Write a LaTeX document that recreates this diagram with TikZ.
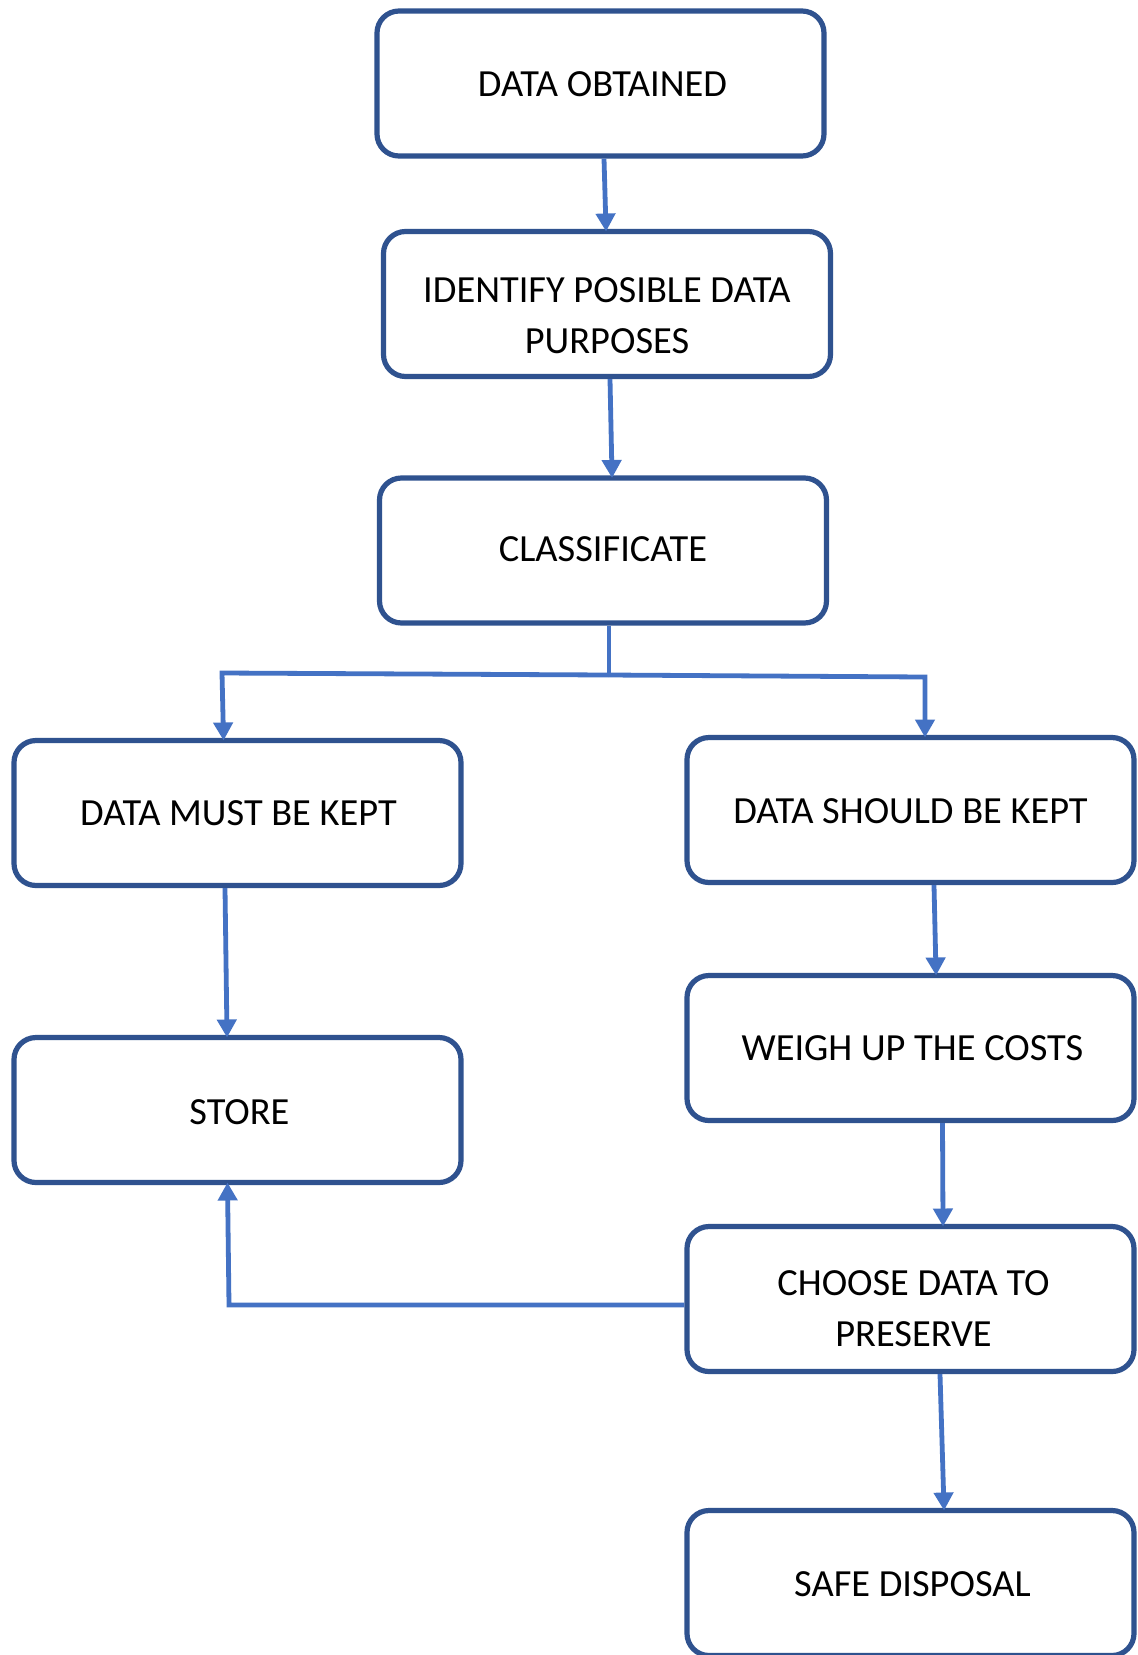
\documentclass[tikz,border=0pt]{standalone}
\usepackage{fontspec}
\setmainfont{Carlito}
\usetikzlibrary{arrows.meta,calc}
\definecolor{boxline}{HTML}{2F528F}
\definecolor{flowline}{HTML}{4472C4}
\begin{document}
\begin{tikzpicture}[x=0.5pt,y=-0.5pt,
  stage/.style={draw=boxline, line width=2.6pt, rounded corners=11pt,
    minimum width=223.5pt, minimum height=72.5pt, inner sep=0pt, fill=white},
  caption/.style={font=\fontsize{19.2}{25.5}\selectfont, align=center, inner sep=0pt},
  link/.style={draw=flowline, line width=2.4pt, line join=miter},
  flow/.style={link, shorten >=-1.3pt, -{Triangle[width=9.5pt,length=9pt]}}]

% page area
\fill[white] (0,0) rectangle (1137,1655);
\useasboundingbox (0,0) rectangle (1137,1655);

% process boxes
\node[stage] (obt)     at (600.5,83.5) {};
\node[stage] (ident)   at (607,304)    {};
\node[stage] (classif) at (603,550.5)  {};
\node[stage] (must)    at (237.5,813)  {};
\node[stage] (should)  at (910.5,810)  {};
\node[stage] (weigh)   at (910.5,1048) {};
\node[stage] (store)   at (237.5,1110) {};
\node[stage] (choose)  at (910.5,1299) {};
\node[stage] (safe)    at (910.5,1583) {};

% box captions
\node[caption] (obt-t)     at ($(obt.center)+(2,1)$)     {DATA OBTAINED};
\node[caption] (ident-t)   at ($(ident.center)+(0,12)$)  {IDENTIFY POSIBLE DATA\\PURPOSES};
\node[caption] (classif-t) at ($(classif.center)+(0,-1)$) {CLASSIFICATE};
\node[caption] (must-t)    at ($(must.center)+(1,0)$)    {DATA MUST BE KEPT};
\node[caption] (should-t)  at ($(should.center)+(0,1)$)  {DATA SHOULD BE KEPT};
\node[caption] (weigh-t)   at ($(weigh.center)+(2,0)$)   {WEIGH UP THE COSTS};
\node[caption] (store-t)   at ($(store.center)+(2,2)$)   {STORE};
\node[caption] (choose-t)  at ($(choose.center)+(3,10)$) {CHOOSE DATA TO\\PRESERVE};
\node[caption] (safe-t)    at ($(safe.center)+(2,1)$)    {SAFE DISPOSAL};

% main chain
\draw[flow] ($(obt.south)+(3.5,0)$)   -- ($(ident.north)+(-1,0)$);
\draw[flow] ($(ident.south)+(3,0)$)   -- ($(classif.north)+(9,0)$);

% split after classification
\coordinate (split)   at (609,675);
\coordinate (lcorner) at (222,673);
\coordinate (rcorner) at (925,677);
\draw[link] ($(classif.south)+(6,0)$) -- (split);
\draw[flow] (split) -- (lcorner) -- ($(must.north)+(-14,0)$);
\draw[flow] (split) -- (rcorner) -- ($(should.north)+(14.5,0)$);

% left branch
\draw[flow] ($(must.south)+(-12.5,0)$) -- ($(store.north)+(-10.5,0)$);

% right branch
\draw[flow] ($(should.south)+(23.5,0)$) -- ($(weigh.north)+(25.5,0)$);
\draw[flow] ($(weigh.south)+(32,0)$)    -- ($(choose.north)+(32.5,0)$);
\draw[flow] ($(choose.south)+(29.5,0)$) -- ($(safe.north)+(33.5,0)$);

% preserved data goes back to storage
\coordinate (back) at (229,1305);
\draw[flow] ($(choose.west)+(0,6)$) -- (back) -- ($(store.south)+(-10,0)$);
\end{tikzpicture}
\end{document}
